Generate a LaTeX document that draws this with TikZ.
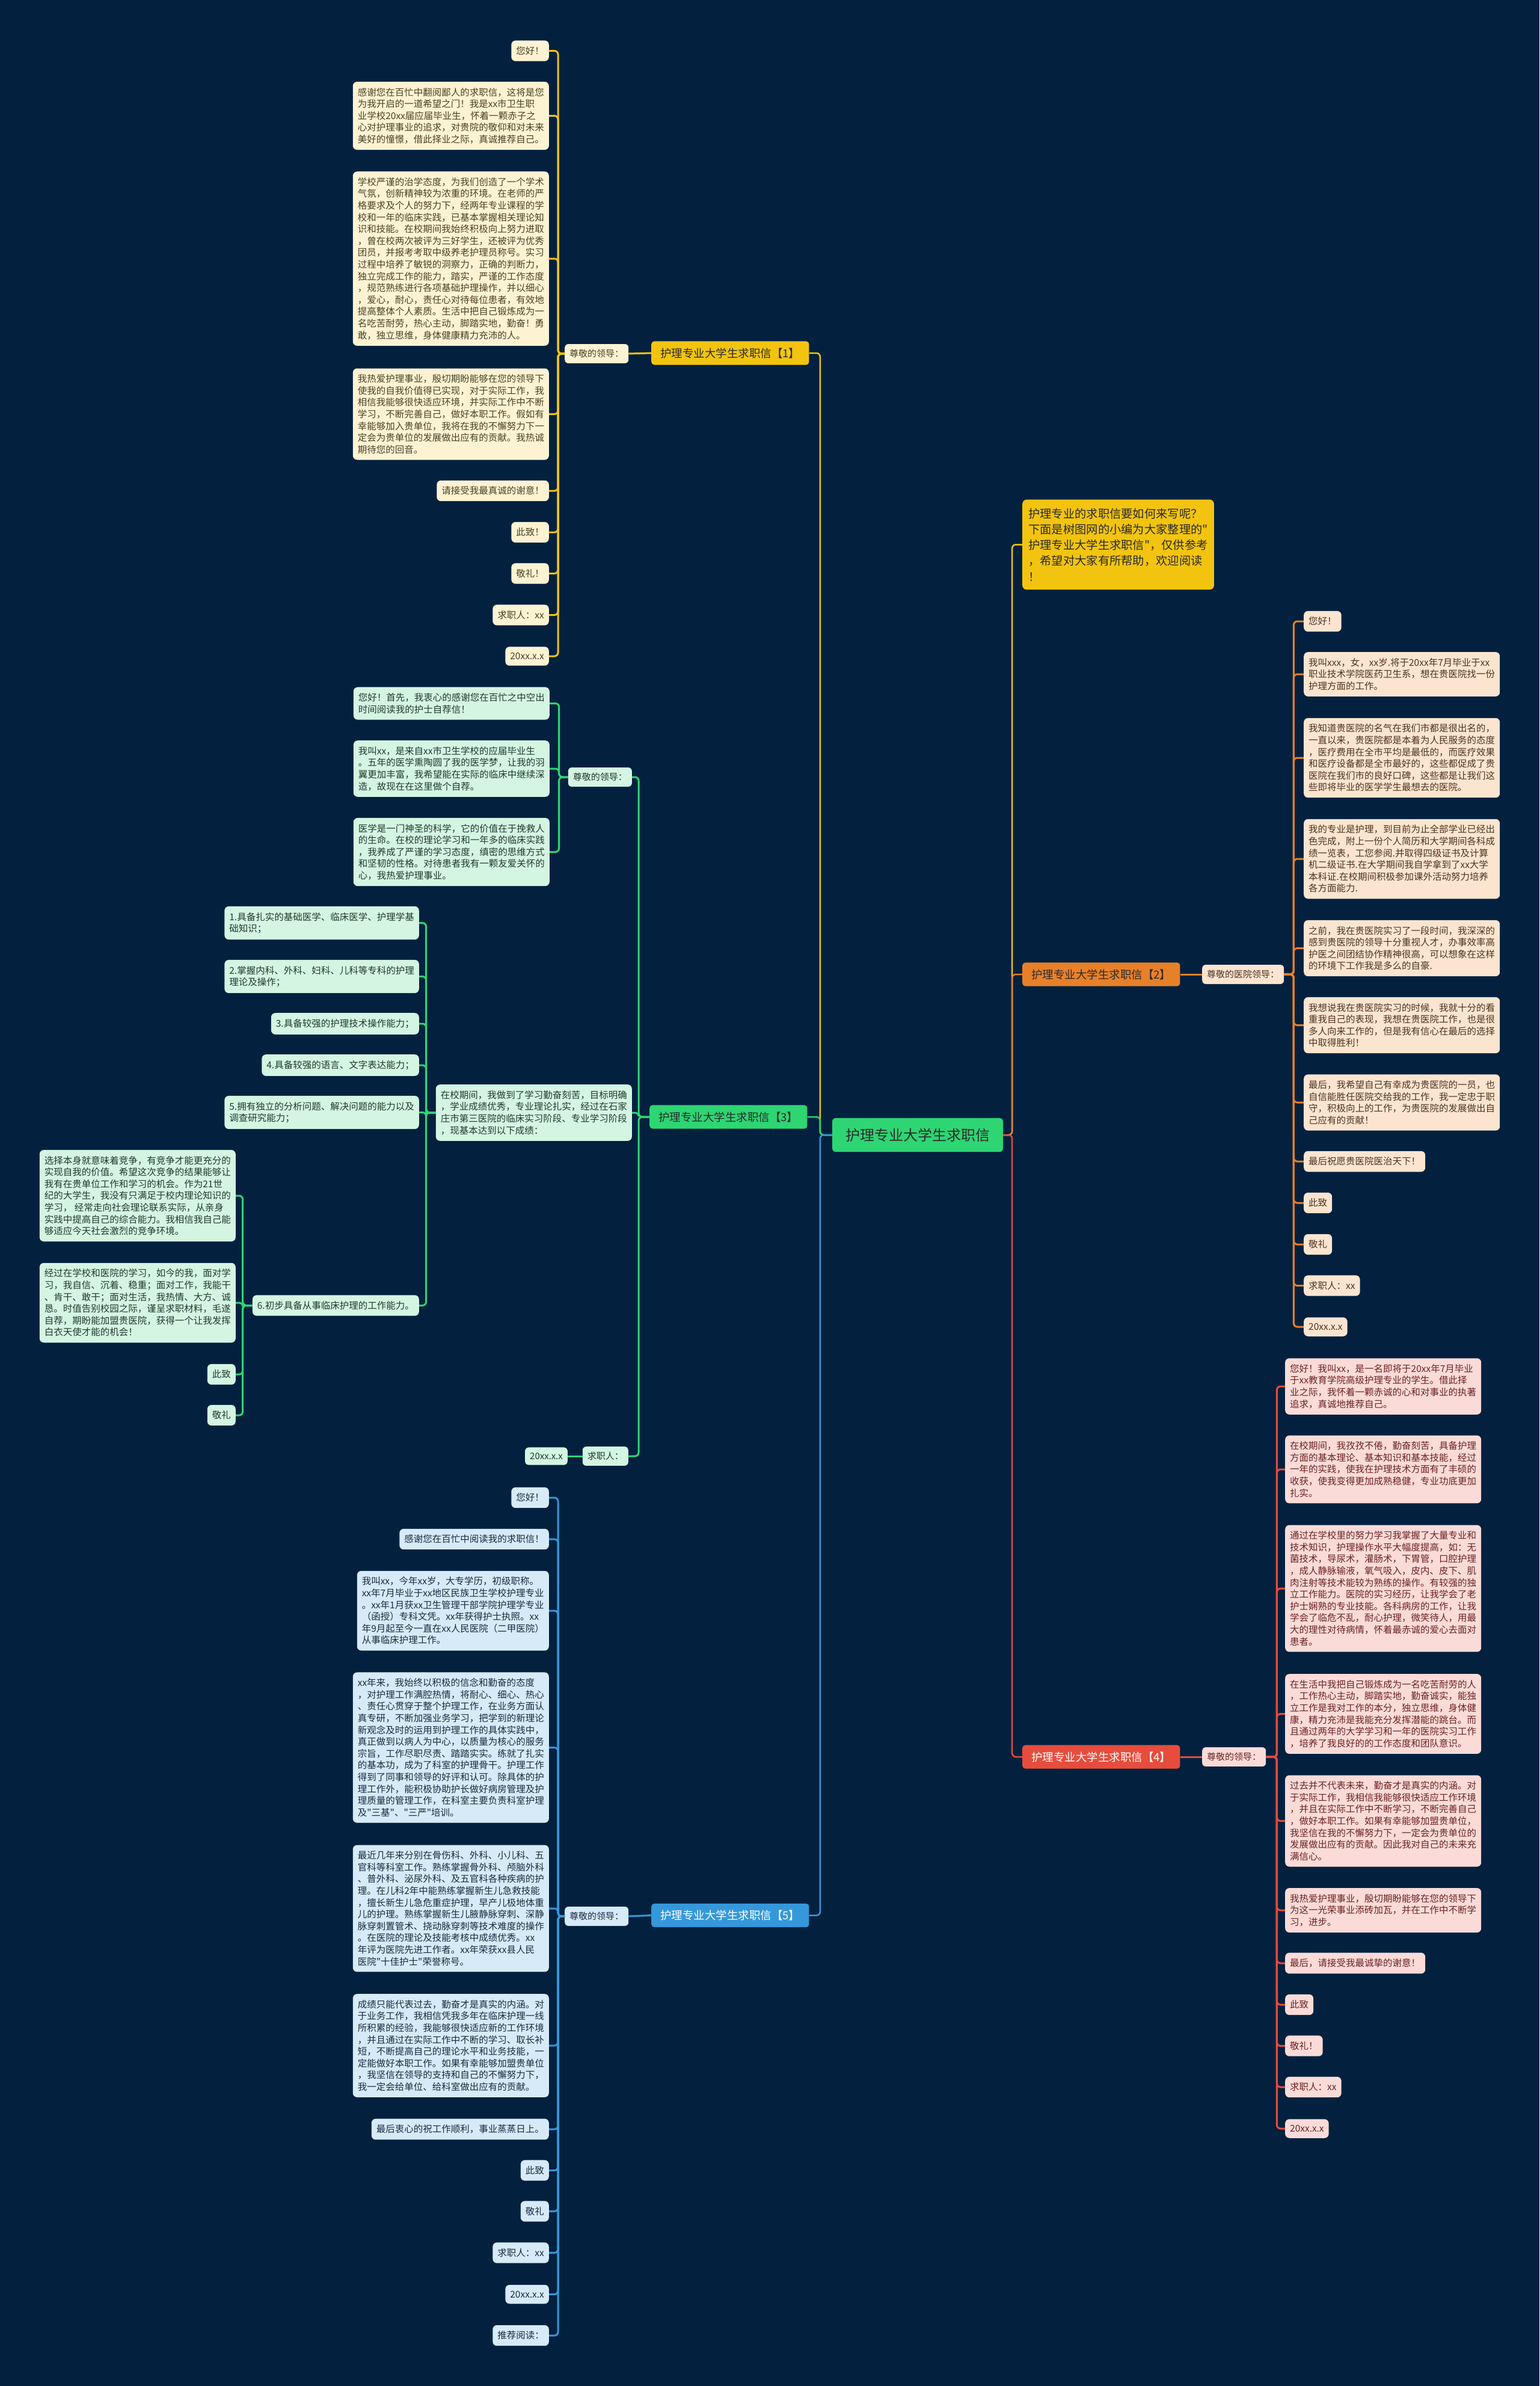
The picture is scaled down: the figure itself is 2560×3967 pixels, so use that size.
\documentclass[tikz,border=0pt]{standalone}
\usepackage{fontspec}
\usepackage{xcolor}
\usepackage{tikz}
\usetikzlibrary{calc}
\newfontfamily\cjk{Noto Sans CJK SC}
\definecolor{MMNavy}{HTML}{03213F}
\definecolor{MMYellow}{HTML}{F2C40F}
\definecolor{MMYellowLight}{HTML}{FDF3D3}
\definecolor{MMYellowInk}{HTML}{4A4126}
\definecolor{MMOrange}{HTML}{E8802A}
\definecolor{MMOrangeLight}{HTML}{FCE5D0}
\definecolor{MMOrangeInk}{HTML}{4D3320}
\definecolor{MMGreen}{HTML}{2ED573}
\definecolor{MMGreenLight}{HTML}{D5F5E3}
\definecolor{MMGreenInk}{HTML}{1F3A2B}
\definecolor{MMRed}{HTML}{E74C3C}
\definecolor{MMRedLight}{HTML}{FADBD8}
\definecolor{MMRedInk}{HTML}{6B2222}
\definecolor{MMBlue}{HTML}{3498DB}
\definecolor{MMBlueLight}{HTML}{D6EAF8}
\definecolor{MMBlueInk}{HTML}{1A2B40}
\definecolor{MMInk}{HTML}{2A2A2A}

\tikzset{
  leaf/.style={font=\cjk\fontsize{15.5}{19.6}\selectfont, align=left,
    inner xsep=8pt, inner ysep=10pt, rounded corners=7pt},
  yleaf/.style={leaf, fill=MMYellowLight, text=MMYellowInk},
  oleaf/.style={leaf, fill=MMOrangeLight, text=MMOrangeInk},
  gleaf/.style={leaf, fill=MMGreenLight, text=MMGreenInk},
  rleaf/.style={leaf, fill=MMRedLight, text=MMRedInk},
  bleaf/.style={leaf, fill=MMBlueLight, text=MMBlueInk},
  tag/.style={font=\cjk\fontsize{15}{18}\selectfont, inner xsep=8pt,
    inner ysep=9pt, rounded corners=6pt},
  branch/.style={font=\cjk\fontsize{18.5}{22}\selectfont, inner xsep=15pt,
    inner ysep=11pt, rounded corners=5pt},
  link/.style={line width=3pt, rounded corners=6pt},
  trunk/.style={line width=2.5pt, rounded corners=6pt},
}

\begin{document}
\begin{tikzpicture}[x=1pt, y=-1pt]
\fill[MMNavy] (0,0) rectangle (2560,3967);

% centre
\node[font=\cjk\fontsize{24}{28}\selectfont, fill=MMGreen, text=MMInk,
  rounded corners=6pt, inner xsep=22pt, inner ysep=17pt] (root) at (1526,1887) {护理专业大学生求职信};

% intro
\node[font=\cjk\fontsize{19.3}{26.3}\selectfont, align=left, fill=MMYellow, text=MMInk,
  rounded corners=7pt, inner xsep=10pt, inner ysep=14pt, anchor=west] (intro) at (1700,905.5) {护理专业的求职信要如何来写呢？\\下面是树图网的小编为大家整理的"\\护理专业大学生求职信"，仅供参考\\，希望对大家有所帮助，欢迎阅读\\！};

% branch 1
\node[branch, fill=MMYellow, text=MMInk, anchor=west] (b1) at (1083,587) {护理专业大学生求职信【1】};
\node[tag, fill=MMYellowLight, text=MMYellowInk, anchor=west] (s1) at (939,588) {尊敬的领导：};
\node[yleaf, anchor=east] (y1a) at (913,84.5) {您好！};
\node[yleaf, anchor=east] (y1b) at (913,192.5) {感谢您在百忙中翻阅鄙人的求职信，这将是您\\为我开启的一道希望之门！我是xx市卫生职\\业学校20xx届应届毕业生，怀着一颗赤子之\\心对护理事业的追求，对贵院的敬仰和对未来\\美好的憧憬，借此择业之际，真诚推荐自己。};
\node[yleaf, anchor=east] (y1c) at (913,430) {学校严谨的治学态度，为我们创造了一个学术\\气氛，创新精神较为浓重的环境。在老师的严\\格要求及个人的努力下，经两年专业课程的学\\校和一年的临床实践，已基本掌握相关理论知\\识和技能。在校期间我始终积极向上努力进取\\，曾在校两次被评为三好学生，还被评为优秀\\团员，并报考考取中级养老护理员称号。实习\\过程中培养了敏锐的洞察力，正确的判断力，\\独立完成工作的能力，踏实，严谨的工作态度\\，规范熟练进行各项基础护理操作，并以细心\\，爱心，耐心，责任心对待每位患者，有效地\\提高整体个人素质。生活中把自己锻炼成为一\\名吃苦耐劳，热心主动，脚踏实地，勤奋！勇\\敢，独立思维，身体健康精力充沛的人。};
\node[yleaf, anchor=east] (y1d) at (913,688.5) {我热爱护理事业，殷切期盼能够在您的领导下\\使我的自我价值得已实现，对于实际工作，我\\相信我能够很快适应环境，并实际工作中不断\\学习，不断完善自己，做好本职工作。假如有\\幸能够加入贵单位，我将在我的不懈努力下一\\定会为贵单位的发展做出应有的贡献。我热诚\\期待您的回音。};
\node[yleaf, anchor=east] (y1e) at (913,816) {请接受我最真诚的谢意！};
\node[yleaf, anchor=east] (y1f) at (913,885) {此致！};
\node[yleaf, anchor=east] (y1g) at (913,953.5) {敬礼！};
\node[yleaf, anchor=east] (y1h) at (913,1022.5) {求职人：xx};
\node[yleaf, anchor=east] (y1i) at (913,1091) {20xx.x.x};

% branch 2
\node[branch, fill=MMOrange, text=MMInk, anchor=west] (b2) at (1700,1620) {护理专业大学生求职信【2】};
\node[tag, fill=MMOrangeLight, text=MMOrangeInk, anchor=west] (s2) at (1999,1620) {尊敬的医院领导：};
\node[oleaf, anchor=west] (o2a) at (2168,1033) {您好！};
\node[oleaf, anchor=west] (o2b) at (2168,1121) {我叫xxx，女，xx岁.将于20xx年7月毕业于xx\\职业技术学院医药卫生系，想在贵医院找一份\\护理方面的工作。};
\node[oleaf, anchor=west] (o2c) at (2168,1260) {我知道贵医院的名气在我们市都是很出名的，\\一直以来，贵医院都是本着为人民服务的态度\\，医疗费用在全市平均是最低的，而医疗效果\\和医疗设备都是全市最好的，这些都促成了贵\\医院在我们市的良好口碑，这些都是让我们这\\些即将毕业的医学学生最想去的医院。};
\node[oleaf, anchor=west] (o2d) at (2168,1428) {我的专业是护理，到目前为止全部学业已经出\\色完成，附上一份个人简历和大学期间各科成\\绩一览表，工您参阅.并取得四级证书及计算\\机二级证书.在大学期间我自学拿到了xx大学\\本科证.在校期间积极参加课外活动努力培养\\各方面能力.};
\node[oleaf, anchor=west] (o2e) at (2168,1576.5) {之前，我在贵医院实习了一段时间，我深深的\\感到贵医院的领导十分重视人才，办事效率高\\护医之间团结协作精神很高，可以想象在这样\\的环境下工作我是多么的自豪.};
\node[oleaf, anchor=west] (o2f) at (2168,1704.5) {我想说我在贵医院实习的时候，我就十分的看\\重我自己的表现，我想在贵医院工作，也是很\\多人向来工作的，但是我有信心在最后的选择\\中取得胜利！};
\node[oleaf, anchor=west] (o2g) at (2168,1833) {最后，我希望自己有幸成为贵医院的一员，也\\自信能胜任医院交给我的工作，我一定忠于职\\守，积极向上的工作，为贵医院的发展做出自\\己应有的贡献！};
\node[oleaf, anchor=west] (o2h) at (2168,1931) {最后祝愿贵医院医治天下！};
\node[oleaf, anchor=west] (o2i) at (2168,2000) {此致};
\node[oleaf, anchor=west] (o2j) at (2168,2069) {敬礼};
\node[oleaf, anchor=west] (o2k) at (2168,2137.5) {求职人：xx};
\node[oleaf, anchor=west] (o2l) at (2168,2206) {20xx.x.x};

% branch 3
\node[branch, fill=MMGreen, text=MMInk, anchor=west] (b3) at (1080,1857) {护理专业大学生求职信【3】};
\node[tag, fill=MMGreenLight, text=MMGreenInk, anchor=east] (s3) at (1051,1292) {尊敬的领导：};
\node[gleaf, anchor=east] (g3a) at (914,1169.5) {您好！首先，我衷心的感谢您在百忙之中空出\\时间阅读我的护士自荐信！};
\node[gleaf, anchor=east] (g3b) at (914,1278) {我叫xx，是来自xx市卫生学校的应届毕业生\\。五年的医学熏陶圆了我的医学梦，让我的羽\\翼更加丰富，我希望能在实际的临床中继续深\\造，故现在在这里做个自荐。};
\node[gleaf, anchor=east] (g3c) at (914,1416.5) {医学是一门神圣的科学，它的价值在于挽救人\\的生命。在校的理论学习和一年多的临床实践\\，我养成了严谨的学习态度，缜密的思维方式\\和坚韧的性格。对待患者我有一颗友爱关怀的\\心，我热爱护理事业。};
\node[gleaf, anchor=east] (m3) at (1051,1850) {在校期间，我做到了学习勤奋刻苦，目标明确\\，学业成绩优秀，专业理论扎实，经过在石家\\庄市第三医院的临床实习阶段、专业学习阶段\\，现基本达到以下成绩：};
\node[gleaf, anchor=east] (k1) at (697,1534.5) {1.具备扎实的基础医学、临床医学、护理学基\\础知识；};
\node[gleaf, anchor=east] (k2) at (697,1623.5) {2.掌握内科、外科、妇科、儿科等专科的护理\\理论及操作；};
\node[gleaf, anchor=east] (k3) at (697,1702) {3.具备较强的护理技术操作能力；};
\node[gleaf, anchor=east] (k4) at (697,1771) {4.具备较强的语言、文字表达能力；};
\node[gleaf, anchor=east] (k5) at (697,1849.5) {5.拥有独立的分析问题、解决问题的能力以及\\调查研究能力；};
\node[gleaf, anchor=east] (k6) at (697,2170.5) {6.初步具备从事临床护理的工作能力。};
\node[gleaf, anchor=east] (k6a) at (392,1988) {选择本身就意味着竞争，有竞争才能更充分的\\实现自我的价值。希望这次竞争的结果能够让\\我有在贵单位工作和学习的机会。作为21世\\纪的大学生，我没有只满足于校内理论知识的\\学习， 经常走向社会理论联系实际，从亲身\\实践中提高自己的综合能力。我相信我自己能\\够适应今天社会激烈的竞争环境。};
\node[gleaf, anchor=east] (k6b) at (392,2166) {经过在学校和医院的学习，如今的我，面对学\\习，我自信、沉着、稳重；面对工作，我能干\\、肯干、敢干；面对生活，我热情、大方、诚\\恳。时值告别校园之际，谨呈求职材料，毛遂\\自荐，期盼能加盟贵医院，获得一个让我发挥\\白衣天使才能的机会！};
\node[gleaf, anchor=east] (k6c) at (392,2285) {此致};
\node[gleaf, anchor=east] (k6d) at (392,2353) {敬礼};
\node[tag, fill=MMGreenLight, text=MMGreenInk, anchor=east] (q3) at (1045,2421) {求职人：};
\node[tag, fill=MMGreenLight, text=MMGreenInk, anchor=east] (d3) at (944,2421) {20xx.x.x};

% branch 4
\node[branch, fill=MMRed, text=white, anchor=west] (b4) at (1700,2921) {护理专业大学生求职信【4】};
\node[tag, fill=MMRedLight, text=MMRedInk, anchor=west] (s4) at (1999,2921) {尊敬的领导：};
\node[rleaf, anchor=west] (r4a) at (2137,2305) {您好！我叫xx，是一名即将于20xx年7月毕业\\于xx教育学院高级护理专业的学生。借此择\\业之际，我怀着一颗赤诚的心和对事业的执著\\追求，真诚地推荐自己。};
\node[rleaf, anchor=west] (r4b) at (2137,2443) {在校期间，我孜孜不倦，勤奋刻苦，具备护理\\方面的基本理论、基本知识和基本技能，经过\\一年的实践，使我在护理技术方面有了丰硕的\\收获，使我变得更加成熟稳健，专业功底更加\\扎实。};
\node[rleaf, anchor=west] (r4c) at (2137,2641) {通过在学校里的努力学习我掌握了大量专业和\\技术知识，护理操作水平大幅度提高，如：无\\菌技术，导尿术，灌肠术，下胃管，口腔护理\\，成人静脉输液，氧气吸入，皮内、皮下、肌\\肉注射等技术能较为熟练的操作。有较强的独\\立工作能力。医院的实习经历，让我学会了老\\护士娴熟的专业技能。各科病房的工作，让我\\学会了临危不乱，耐心护理，微笑待人，用最\\大的理性对待病情，怀着最赤诚的爱心去面对\\患者。};
\node[rleaf, anchor=west] (r4d) at (2137,2849.5) {在生活中我把自己锻炼成为一名吃苦耐劳的人\\，工作热心主动，脚踏实地，勤奋诚实，能独\\立工作是我对工作的本分，独立思维，身体健\\康，精力充沛是我能充分发挥潜能的跳台。而\\且通过两年的大学学习和一年的医院实习工作\\，培养了我良好的的工作态度和团队意识。};
\node[rleaf, anchor=west] (r4e) at (2137,3027.5) {过去并不代表未来，勤奋才是真实的内涵。对\\于实际工作，我相信我能够很快适应工作环境\\，并且在实际工作中不断学习，不断完善自己\\，做好本职工作。如果有幸能够加盟贵单位，\\我坚信在我的不懈努力下，一定会为贵单位的\\发展做出应有的贡献。因此我对自己的未来充\\满信心。};
\node[rleaf, anchor=west] (r4f) at (2137,3176) {我热爱护理事业，殷切期盼能够在您的领导下\\为这一光荣事业添砖加瓦，并在工作中不断学\\习，进步。};
\node[rleaf, anchor=west] (r4g) at (2137,3264) {最后，请接受我最诚挚的谢意！};
\node[rleaf, anchor=west] (r4h) at (2137,3333) {此致};
\node[rleaf, anchor=west] (r4i) at (2137,3401.5) {敬礼！};
\node[rleaf, anchor=west] (r4j) at (2137,3470) {求职人：xx};
\node[rleaf, anchor=west] (r4k) at (2137,3539) {20xx.x.x};

% branch 5
\node[branch, fill=MMBlue, text=white, anchor=west] (b5) at (1083,3184.5) {护理专业大学生求职信【5】};
\node[tag, fill=MMBlueLight, text=MMBlueInk, anchor=west] (s5) at (939,3186) {尊敬的领导：};
\node[bleaf, anchor=east] (u5a) at (913,2490) {您好！};
\node[bleaf, anchor=east] (u5b) at (913,2559) {感谢您在百忙中阅读我的求职信！};
\node[bleaf, anchor=east] (u5c) at (913,2678) {我叫xx，今年xx岁，大专学历，初级职称。\\xx年7月毕业于xx地区民族卫生学校护理专业\\。xx年1月获xx卫生管理干部学院护理学专业\\（函授）专科文凭。xx年获得护士执照。xx\\年9月起至今一直在xx人民医院（二甲医院）\\从事临床护理工作。};
\node[bleaf, anchor=east] (u5d) at (913,2905.5) {xx年来，我始终以积极的信念和勤奋的态度\\，对护理工作满腔热情，将耐心、细心、热心\\、责任心贯穿于整个护理工作，在业务方面认\\真专研，不断加强业务学习，把学到的新理论\\新观念及时的运用到护理工作的具体实践中，\\真正做到以病人为中心，以质量为核心的服务\\宗旨，工作尽职尽责、踏踏实实。练就了扎实\\的基本功，成为了科室的护理骨干。护理工作\\得到了同事和领导的好评和认可。除具体的护\\理工作外，能积极协助护长做好病房管理及护\\理质量的管理工作，在科室主要负责科室护理\\及"三基"、"三严"培训。};
\node[bleaf, anchor=east] (u5e) at (913,3173) {最近几年来分别在骨伤科、外科、小儿科、五\\官科等科室工作。熟练掌握骨外科、颅脑外科\\、普外科、泌尿外科、及五官科各种疾病的护\\理。在儿科2年中能熟练掌握新生儿急救技能\\，擅长新生儿急危重症护理，早产儿极地体重\\儿的护理。熟练掌握新生儿腋静脉穿刺、深静\\脉穿刺置管术、挠动脉穿刺等技术难度的操作\\。在医院的理论及技能考核中成绩优秀。xx\\年评为医院先进工作者。xx年荣获xx县人民\\医院"十佳护士"荣誉称号。};
\node[bleaf, anchor=east] (u5f) at (913,3401) {成绩只能代表过去，勤奋才是真实的内涵。对\\于业务工作，我相信凭我多年在临床护理一线\\所积累的经验，我能够很快适应新的工作环境\\，并且通过在实际工作中不断的学习、取长补\\短，不断提高自己的理论水平和业务技能，一\\定能做好本职工作。如果有幸能够加盟贵单位\\，我坚信在领导的支持和自己的不懈努力下，\\我一定会给单位、给科室做出应有的贡献。};
\node[bleaf, anchor=east] (u5g) at (913,3540) {最后衷心的祝工作顺利，事业蒸蒸日上。};
\node[bleaf, anchor=east] (u5h) at (913,3608.5) {此致};
\node[bleaf, anchor=east] (u5i) at (913,3676.5) {敬礼};
\node[bleaf, anchor=east] (u5j) at (913,3745.5) {求职人：xx};
\node[bleaf, anchor=east] (u5k) at (913,3814.5) {20xx.x.x};
\node[bleaf, anchor=east] (u5l) at (913,3883) {推荐阅读：};

% connectors from the centre
\draw[trunk, MMYellow] (root.east) -- ++(15,0) |- (intro.west);
\draw[trunk, MMOrange] (root.east) -- ++(15,0) |- (b2.west);
\draw[trunk, MMRed] (root.east) -- ++(15,0) |- (b4.west);
\draw[trunk, MMYellow] (root.west) -- ++(-20,0) |- (b1.east);
\draw[trunk, MMGreen] (root.west) -- ++(-20,0) |- (b3.east);
\draw[trunk, MMBlue] (root.west) -- ++(-20,0) |- (b5.east);

% branch connectors
\draw[link, MMYellow] (b1.west) -- (s1.east);
\foreach \n in {a,...,i} \draw[link, MMYellow] (s1.west) -- ++(-11,0) |- (y1\n.east);
\draw[link, MMOrange] (b2.east) -- (s2.west);
\foreach \n in {a,...,l} \draw[link, MMOrange] (s2.east) -- ++(16,0) |- (o2\n.west);
\foreach \n in {s3,m3,q3} \draw[link, MMGreen] (b3.west) -- ++(-18,0) |- (\n.east);
\foreach \n in {a,b,c} \draw[link, MMGreen] (s3.west) -- ++(-15,0) |- (g3\n.east);
\foreach \n in {1,...,6} \draw[link, MMGreen] (m3.west) -- ++(-16,0) |- (k\n.east);
\foreach \n in {a,...,d} \draw[link, MMGreen] (k6.west) -- ++(-16,0) |- (k6\n.east);
\draw[link, MMGreen] (q3.west) -- (d3.east);
\draw[link, MMRed] (b4.east) -- (s4.west);
\foreach \n in {a,...,k} \draw[link, MMRed] (s4.east) -- ++(18,0) |- (r4\n.west);
\draw[link, MMBlue] (b5.west) -- (s5.east);
\foreach \n in {a,...,l} \draw[link, MMBlue] (s5.west) -- ++(-11,0) |- (u5\n.east);
\end{tikzpicture}
\end{document}
